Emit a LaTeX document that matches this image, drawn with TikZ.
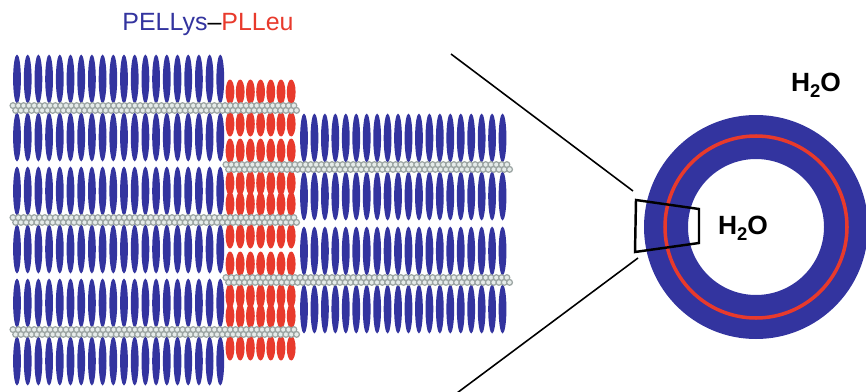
\documentclass[tikz,border=0pt]{standalone}
\usepackage{fontspec}
\setmainfont{Liberation Sans}
\usepackage{xcolor}
\definecolor{lamblue}{HTML}{33349F}
\definecolor{lamred}{HTML}{E83A2C}
\definecolor{lamgray}{HTML}{9CA5A3}
\definecolor{lamlight}{HTML}{E6ECEA}
\newcommand\hwater{H\raisebox{-0.45ex}{\fontsize{10.5}{10.5}\selectfont 2}O}

\begin{document}
\begin{tikzpicture}[x=0.02cm, y=-0.02cm,
  bluerod/.style={fill=lamblue},
  redrod/.style={fill=lamred},
  bead/.style={draw=lamgray, fill=lamlight, line width=0.7pt},
  zoomline/.style={draw=black, line width=0.9pt},
  every node/.style={inner sep=0pt}]
  \useasboundingbox (0,0) rectangle (866,392);
  \clip (0,0) rectangle (866,392);
  % left stack of lamellae
  \foreach \g in {108,220,332}
    \foreach \i in {0,...,19} {
      \fill[bluerod] ({17+10.7*\i},\g-29) ellipse (3.9 and 24.5);
      \fill[bluerod] ({17+10.7*\i},\g+29) ellipse (3.9 and 24.5);
    }
  % right stack, shifted by half a period
  \foreach \g in {167,280}
    \foreach \j in {0,...,19} {
      \fill[bluerod] ({304+10.45*\j},\g-29) ellipse (3.9 and 24.5);
      \fill[bluerod] ({304+10.45*\j},\g+29) ellipse (3.9 and 24.5);
    }
  % short PLLeu blocks in between
  \foreach \g in {108,167,220,280,332}
    \foreach \k in {0,...,6} {
      \fill[redrod] ({230+10.2*\k},\g-16) ellipse (4.4 and 12.5);
      \fill[redrod] ({230+10.2*\k},\g+16) ellipse (4.4 and 12.5);
    }
  % bead chains
  \foreach \g in {108,220,332}
    \foreach \n in {0,...,53} {
      \path[bead] ({13+5.3*\n},\g-2.4) circle (2.9);
      \path[bead] ({15.65+5.3*\n},\g+2.4) circle (2.9);
    }
  \foreach \g in {167,280}
    \foreach \n in {0,...,53} {
      \path[bead] ({226+5.3*\n},\g-2.4) circle (2.9);
      \path[bead] ({228.65+5.3*\n},\g+2.4) circle (2.9);
    }
  % vesicle
  \coordinate (ves) at (756,227);
  \fill[lamblue, even odd rule] (ves) circle (112) (ves) circle (68);
  \draw[lamred, line width=2pt] (ves) circle (91);
  % zoom frame
  \coordinate (tl) at (636,200);
  \coordinate (tr) at (699,209);
  \coordinate (br) at (699,243);
  \coordinate (bl) at (635,252);
  \draw[black, line width=1.4pt] (tl) -- (tr) -- (br) -- (bl) -- cycle;
  \coordinate (za) at (451,54);
  \coordinate (zb) at (633,191);
  \coordinate (zc) at (638,258);
  \coordinate (zd) at (457,393);
  \draw[zoomline] (za) -- (zb);
  \draw[zoomline] (zc) -- (zd);
  % labels
  \node[font=\fontsize{14.2}{17}\selectfont] (title) at (208,25)
    {\textcolor{lamblue}{PELLys}\textendash\textcolor{lamred}{PLLeu}};
  \node[font=\bfseries\fontsize{15}{18}\selectfont] (outside) at (816,85) {\hwater};
  \node[font=\bfseries\fontsize{15}{18}\selectfont] (inside) at (743,228) {\hwater};
\end{tikzpicture}
\end{document}
